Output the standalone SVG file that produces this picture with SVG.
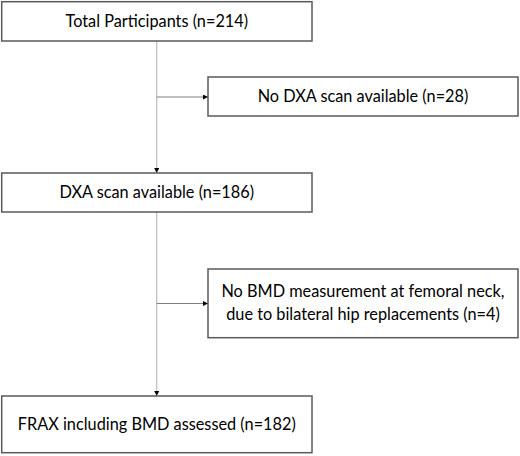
<svg xmlns="http://www.w3.org/2000/svg" width="520" height="456" viewBox="0 0 520 456">
<defs>
<style>
.box{fill:#fff;stroke:#5a5a5a;stroke-width:1.5}
.t{font-family:Lato,"Open Sans","Liberation Sans",sans-serif;font-size:16.3px;fill:#000;text-anchor:middle}
.v{stroke:#bdbdbd;stroke-width:1.2;fill:none}
.h{stroke:#7f7f7f;stroke-width:1;fill:none}
</style>
<marker id="ah" viewBox="0 0 10 10" refX="10" refY="5" markerWidth="5" markerHeight="5" markerUnits="userSpaceOnUse" orient="auto">
<path d="M0,0 L10,5 L0,10 Z" fill="#000"/>
</marker>
</defs>
<rect width="520" height="456" fill="#fff"/>
<g id="connectors">
<line class="v" x1="156.7" y1="41" x2="156.7" y2="173" marker-end="url(#ah)"/>
<line class="h" x1="156.7" y1="97" x2="208" y2="97" marker-end="url(#ah)"/>
<line class="v" x1="156.7" y1="212" x2="156.7" y2="396" marker-end="url(#ah)"/>
<line class="h" x1="156.7" y1="303.5" x2="208" y2="303.5" marker-end="url(#ah)"/>
</g>
<g id="n1">
<rect class="box" x="1.7" y="1.7" width="310.3" height="39.3"/>
<text class="t" x="156.8" y="27.3">Total Participants (n=214)</text>
</g>
<g id="n2">
<rect class="box" x="208" y="77" width="310" height="39"/>
<text class="t" x="363" y="102.3">No DXA scan available (n=28)</text>
</g>
<g id="n3">
<rect class="box" x="1.7" y="173" width="310.3" height="39"/>
<text class="t" x="156.8" y="198.3">DXA scan available (n=186)</text>
</g>
<g id="n4">
<rect class="box" x="208" y="269" width="310" height="68.7"/>
<text class="t" x="363" y="297.3">No BMD measurement at femoral neck,</text>
<text class="t" x="363" y="320.3">due to bilateral hip replacements (n=4)</text>
</g>
<g id="n5">
<rect class="box" x="1.7" y="396" width="310.3" height="56.7"/>
<text class="t" x="156.8" y="430.3">FRAX including BMD assessed (n=182)</text>
</g>
</svg>
